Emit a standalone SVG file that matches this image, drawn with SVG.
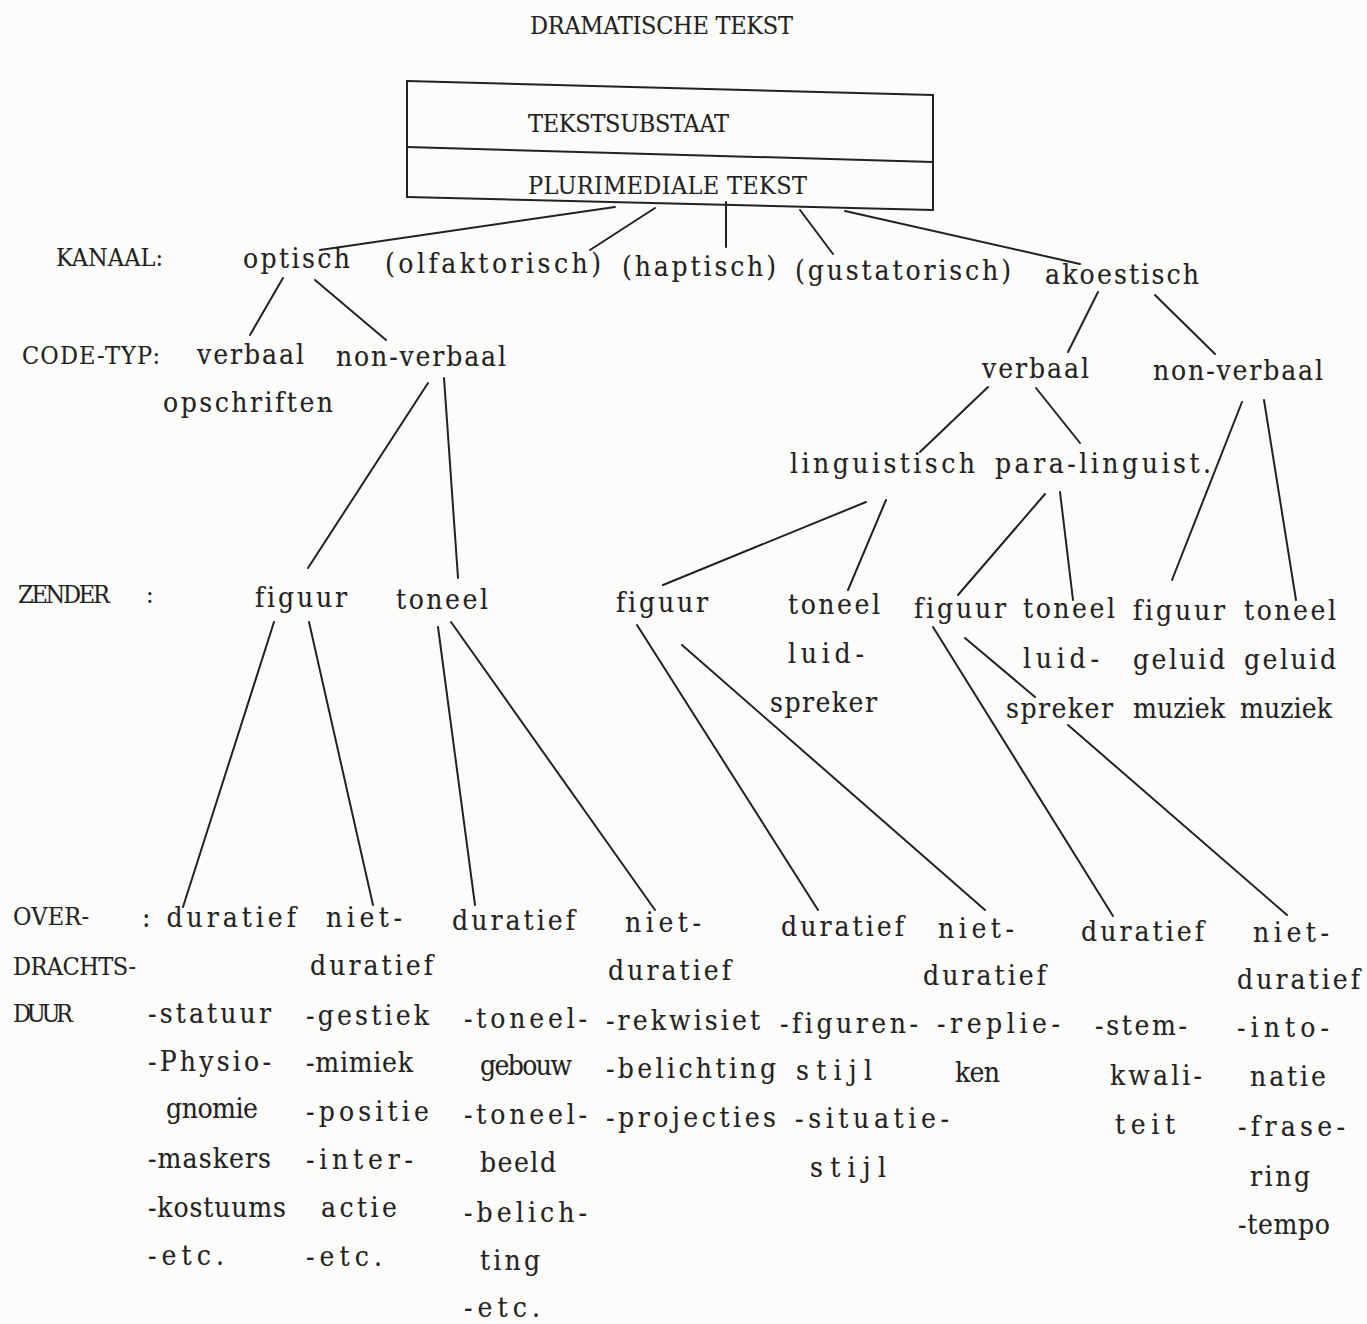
<svg xmlns="http://www.w3.org/2000/svg" width="1367" height="1324" viewBox="0 0 1367 1324">
<style>
text{font-family:"DejaVu Serif Condensed","DejaVu Serif",serif;font-stretch:condensed;font-variant-ligatures:none;font-size:28px;fill:#222;stroke:#222;stroke-width:0.1}
text.u{font-size:25px}
.c line,.box line{stroke:#222;stroke-width:2;stroke-linecap:round}
</style>
<rect width="1367" height="1324" fill="#fcfcfa"/>
<g id="title"><text class="u" x="530" y="34" textLength="263">DRAMATISCHE TEKST</text></g>
<g id="box">
<g class="box">
<line x1="407" y1="81" x2="933" y2="95"/>
<line x1="407" y1="147" x2="933" y2="162"/>
<line x1="407" y1="197" x2="933" y2="210"/>
<line x1="407" y1="81" x2="407" y2="197"/>
<line x1="933" y1="95" x2="933" y2="210"/>
</g>
<text class="u" x="528" y="132" textLength="201">TEKSTSUBSTAAT</text>
<text class="u" x="528" y="194" textLength="279">PLURIMEDIALE TEKST</text>
</g>
<g id="labels">
<text class="u" x="56" y="266" textLength="107">KANAAL:</text>
<text class="u" x="22" y="364" textLength="138">CODE-TYP:</text>
<text class="u" x="18" y="603" textLength="92">ZENDER</text><text class="u" x="146" y="603">:</text>
<text class="u" x="13" y="925" textLength="76">OVER-</text>
<text class="u" x="13" y="975" textLength="123">DRACHTS-</text>
<text class="u" x="13" y="1022" textLength="60">DUUR</text>
</g>
<g id="kanaal">
<g id="n-optisch"><text x="243" y="268" textLength="107">optisch</text></g>
<g id="n-olfaktorisch"><text x="385" y="273" textLength="216">(olfaktorisch)</text></g>
<g id="n-haptisch"><text x="622" y="276" textLength="154">(haptisch)</text></g>
<g id="n-gustatorisch"><text x="795" y="280" textLength="216">(gustatorisch)</text></g>
<g id="n-akoestisch"><text x="1045" y="284" textLength="154">akoestisch</text></g>
</g>
<g id="codetyp">
<g id="n-opt-verbaal"><text x="197" y="364" textLength="107">verbaal</text><text x="163" y="412" textLength="170">opschriften</text></g>
<g id="n-opt-nonverbaal"><text x="336" y="366" textLength="170">non-verbaal</text></g>
<g id="n-ak-verbaal"><text x="982" y="378" textLength="107">verbaal</text></g>
<g id="n-ak-nonverbaal"><text x="1153" y="380" textLength="170">non-verbaal</text></g>
<g id="n-linguistisch"><text x="790" y="473" textLength="185">linguistisch</text></g>
<g id="n-paralinguist"><text x="995" y="473" textLength="216">para-linguist.</text></g>
</g>
<g id="zender">
<g id="n-z1"><text x="255" y="607" textLength="92">figuur</text></g>
<g id="n-z2"><text x="396" y="609" textLength="92">toneel</text></g>
<g id="n-z3"><text x="616" y="612" textLength="92">figuur</text></g>
<g id="n-z4"><text x="788" y="614" textLength="92">toneel</text><text x="788" y="663" textLength="76">luid-</text><text x="770" y="712" textLength="107">spreker</text></g>
<g id="n-z5"><text x="914" y="618" textLength="92">figuur</text></g>
<g id="n-z6"><text x="1023" y="618" textLength="92">toneel</text><text x="1023" y="668" textLength="76">luid-</text><text x="1006" y="718" textLength="107">spreker</text></g>
<g id="n-z7"><text x="1133" y="620" textLength="92">figuur</text><text x="1133" y="669" textLength="92">geluid</text><text x="1133" y="718" textLength="92">muziek</text></g>
<g id="n-z8"><text x="1244" y="620" textLength="92">toneel</text><text x="1244" y="669" textLength="92">geluid</text><text x="1240" y="718" textLength="92">muziek</text></g>
</g>
<g id="overdracht">
<g id="n-o1"><text x="142" y="927" textLength="154">: duratief</text>
<text x="148" y="1023" textLength="123">-statuur</text><text x="148" y="1071" textLength="123">-Physio-</text><text x="166" y="1118" textLength="92">gnomie</text><text x="148" y="1168" textLength="123">-maskers</text><text x="148" y="1217" textLength="138">-kostuums</text><text x="148" y="1265" textLength="76">-etc.</text></g>
<g id="n-o2"><text x="326" y="927" textLength="76">niet-</text><text x="310" y="975" textLength="123">duratief</text>
<text x="306" y="1025" textLength="123">-gestiek</text><text x="306" y="1072" textLength="107">-mimiek</text><text x="306" y="1121" textLength="123">-positie</text><text x="306" y="1169" textLength="107">-inter-</text><text x="321" y="1217" textLength="76">actie</text><text x="306" y="1266" textLength="76">-etc.</text></g>
<g id="n-o3"><text x="452" y="930" textLength="123">duratief</text>
<text x="464" y="1028" textLength="123">-toneel-</text><text x="480" y="1075" textLength="92">gebouw</text><text x="464" y="1124" textLength="123">-toneel-</text><text x="480" y="1172" textLength="76">beeld</text><text x="464" y="1222" textLength="123">-belich-</text><text x="480" y="1270" textLength="60">ting</text><text x="464" y="1317" textLength="76">-etc.</text></g>
<g id="n-o4"><text x="625" y="932" textLength="76">niet-</text><text x="608" y="980" textLength="123">duratief</text>
<text x="606" y="1030" textLength="154">-rekwisiet</text><text x="606" y="1078" textLength="170">-belichting</text><text x="606" y="1127" textLength="170">-projecties</text></g>
<g id="n-o5"><text x="781" y="936" textLength="123">duratief</text>
<text x="780" y="1033" textLength="138">-figuren-</text><text x="796" y="1080" textLength="76">stijl</text><text x="795" y="1128" textLength="154">-situatie-</text><text x="810" y="1177" textLength="76">stijl</text></g>
<g id="n-o6"><text x="938" y="938" textLength="76">niet-</text><text x="923" y="985" textLength="123">duratief</text>
<text x="937" y="1033" textLength="123">-replie-</text><text x="955" y="1082" textLength="45">ken</text></g>
<g id="n-o7"><text x="1081" y="941" textLength="123">duratief</text>
<text x="1095" y="1035" textLength="92">-stem-</text><text x="1110" y="1085" textLength="92">kwali-</text><text x="1115" y="1134" textLength="60">teit</text></g>
<g id="n-o8"><text x="1253" y="942" textLength="76">niet-</text><text x="1237" y="989" textLength="123">duratief</text>
<text x="1237" y="1037" textLength="92">-into-</text><text x="1250" y="1086" textLength="76">natie</text><text x="1238" y="1136" textLength="107">-frase-</text><text x="1250" y="1186" textLength="60">ring</text><text x="1238" y="1234" textLength="92">-tempo</text></g>
</g>
<g id="connectors" class="c">
<line x1="615" y1="207" x2="320" y2="250"/>
<line x1="655" y1="208" x2="590" y2="250"/>
<line x1="726" y1="202" x2="726" y2="247"/>
<line x1="800" y1="210" x2="833" y2="254"/>
<line x1="845" y1="211" x2="1080" y2="264"/>
<line x1="283" y1="278" x2="250" y2="335"/>
<line x1="315" y1="280" x2="386" y2="340"/>
<line x1="428" y1="383" x2="308" y2="568"/>
<line x1="444" y1="378" x2="458" y2="578"/>
<line x1="1098" y1="292" x2="1068" y2="352"/>
<line x1="1155" y1="295" x2="1215" y2="354"/>
<line x1="988" y1="387" x2="920" y2="452"/>
<line x1="1036" y1="388" x2="1080" y2="443"/>
<line x1="1242" y1="402" x2="1172" y2="580"/>
<line x1="1264" y1="400" x2="1296" y2="600"/>
<line x1="866" y1="502" x2="663" y2="585"/>
<line x1="886" y1="500" x2="848" y2="590"/>
<line x1="1045" y1="494" x2="958" y2="595"/>
<line x1="1060" y1="492" x2="1073" y2="600"/>
<line x1="274" y1="622" x2="183" y2="907"/>
<line x1="309" y1="622" x2="373" y2="905"/>
<line x1="438" y1="627" x2="475" y2="905"/>
<line x1="451" y1="622" x2="655" y2="910"/>
<line x1="637" y1="625" x2="818" y2="910"/>
<line x1="682" y1="645" x2="985" y2="910"/>
<line x1="933" y1="627" x2="1113" y2="916"/>
<line x1="965" y1="638" x2="1035" y2="697"/>
<line x1="1068" y1="725" x2="1287" y2="915"/>
</g>
</svg>
